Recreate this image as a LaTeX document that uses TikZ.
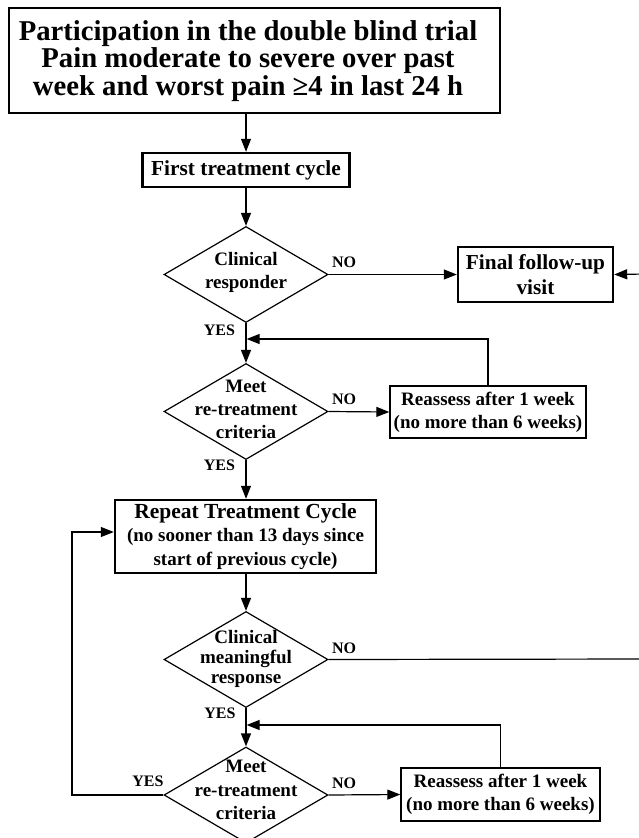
\documentclass[tikz,border=0pt]{standalone}
\usepackage{fontspec}
\setmainfont{Liberation Serif}
\usetikzlibrary{shapes.geometric,arrows.meta}
\tikzset{
  conn/.style={line width=1.2pt},
  arr/.style={conn,-{Triangle[length=13pt,width=10pt]}},
  thickbox/.style={draw,line width=2.4pt,inner sep=0pt,align=center},
  thinbox/.style={draw,line width=1.4pt,inner sep=0pt,align=center},
  dia/.style={draw,diamond,line width=1.2pt,inner sep=0pt,minimum width=164pt,minimum height=96pt},
  dtxt/.style={font=\bfseries\fontsize{19}{23}\selectfont,align=center,inner sep=0pt},
  lbl/.style={font=\bfseries\fontsize{16}{16}\selectfont,inner sep=0pt},
}
\begin{document}
\begin{tikzpicture}[x=1pt,y=-1pt]
\useasboundingbox (0,0) rectangle (639,838);
\clip (0,0) rectangle (639,838);
\fill[white] (0,0) rectangle (639,838);

% top box
\node[thinbox,line width=1.3pt,minimum width=491pt,minimum height=105pt] (top) at (254.5,60.5) {};
\node[inner sep=0pt,align=center,font=\bfseries\fontsize{28.7}{27.5}\selectfont] (toptxt) at (248,61)
  {Participation in the double blind trial\\Pain moderate to severe over past\\week and worst pain ≥4 in last 24 h};

% first treatment
\node[thickbox,minimum width=207pt,minimum height=34pt,font=\bfseries\fontsize{21.4}{24}\selectfont] (first) at (246,170) {First treatment cycle};

% diamond 1
\node[dia] (d1) at (246,274.5) {};
\node[dtxt] (d1t) at (246,272) {Clinical\\responder};

% final follow-up
\node[thickbox,minimum width=155pt,minimum height=55pt,font=\bfseries\fontsize{21.3}{25}\selectfont] (final) at (535.5,274.5) {Final follow-up\\visit};
\coordinate (rin) at (645,274);

% diamond 2
\node[dia] (d2) at (246,411.5) {};
\node[dtxt] (d2t) at (246,409.5) {Meet\\re-treatment\\criteria};

% reassess 1
\node[thinbox,minimum width=196pt,minimum height=52pt,font=\bfseries\fontsize{19}{23}\selectfont] (re1) at (488,412) {Reassess after 1 week\\(no more than 6 weeks)};
\coordinate (fb1) at (246.6,339);

% repeat box
\node[thickbox,minimum width=261pt,minimum height=73pt,font=\bfseries\fontsize{19}{23.5}\selectfont] (rep) at (245.5,536.5)
  {{\fontsize{21.5}{23.5}\selectfont Repeat Treatment Cycle}\\(no sooner than 13 days since\\start of previous cycle)};

% diamond 3
\node[dia] (d3) at (246,659.5) {};
\node[dtxt,font=\bfseries\fontsize{19}{20}\selectfont] (d3t) at (246,659) {Clinical\\meaningful\\response};
\coordinate (rout) at (645,659);

% diamond 4
\node[dia] (d4) at (246,795) {};
\node[dtxt,font=\bfseries\fontsize{19}{23.5}\selectfont] (d4t) at (246,790) {Meet\\re-treatment\\criteria};

% reassess 2
\node[thinbox,minimum width=199pt,minimum height=53pt,font=\bfseries\fontsize{19}{23}\selectfont] (re2) at (500.5,794.5) {Reassess after 1 week\\(no more than 6 weeks)};
\coordinate (fb2) at (246.6,725);
\coordinate (lc1) at (72,795);
\coordinate (lc2) at (72,532);

% labels
\node[lbl] (no1) at (344,262) {NO};
\node[lbl] (yes1) at (219.5,330) {YES};
\node[lbl] (no2) at (344,399) {NO};
\node[lbl] (yes2) at (219.5,465) {YES};
\node[lbl] (no3) at (344,648) {NO};
\node[lbl] (yes3) at (220,713) {YES};
\node[lbl] (no4) at (344,783) {NO};
\node[lbl] (yes4) at (148,781) {YES};

% connectors
\draw[arr] (first.north |- top.south) -- (first.north);
\draw[arr] (first.south) -- (d1.north);
\draw[arr] (d1.east) -- (final.west);
\draw[arr] (rin) -- (final.east);
\draw[arr] (d1.south) -- (d2.north);
\draw[arr] (re1.north) |- (fb1);
\draw[arr] (d2.east) -- (re1.west);
\draw[arr] (d2.south) -- (d2.south |- rep.north);
\draw[arr] (rep.south -| d3.north) -- (d3.north);
\draw[conn] (d3.east) -- (rout);
\draw[arr] (d3.south) -- (d4.north);
\draw[arr] (re2.north) |- (fb2);
\draw[arr] (d4.east) -- (re2.west);
\draw[arr] (d4.west) -- (lc1) -- (lc2) -- (lc2 -| rep.west);
\end{tikzpicture}
\end{document}
